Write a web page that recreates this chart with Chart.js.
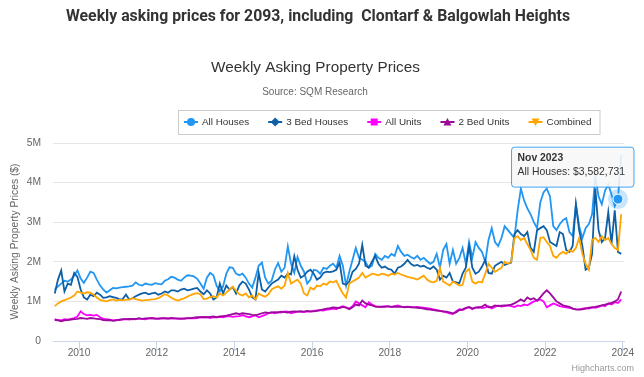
<!DOCTYPE html>
<html>
<head>
<meta charset="utf-8">
<script src="https://cdn.jsdelivr.net/npm/chart.js@4.4.1/dist/chart.umd.min.js"></script>
<style>
html,body{margin:0;padding:0;background:#fff;}
#wrap{position:relative;width:644px;height:377px;overflow:hidden;background:#fff;}
#heading{position:absolute;left:66px;top:6px;white-space:pre;font-family:Roboto,"Liberation Sans",Arial,sans-serif;font-weight:700;font-size:15.8px;line-height:20px;color:#333;}
canvas{position:absolute;left:0;top:0;}
</style>
</head>
<body>
<div id="wrap">
<canvas id="c" width="644" height="377"></canvas>
<div id="heading">Weekly asking prices for 2093, including  Clontarf &amp; Balgowlah Heights</div>
</div>
<script>
// ---- data (values in $ millions), monthly from May 2009 ----
const startYear = 2009;
const startMonth = 5;
const monthNames = ['Jan','Feb','Mar','Apr','May','Jun','Jul','Aug','Sep','Oct','Nov','Dec'];
const seriesNames = ['All Houses','3 Bed Houses','All Units','2 Bed Units','Combined'];
const xTickYears = [2010,2012,2014,2016,2018,2020,2022,2024];
const yTickValues = [0,1,2,3,4,5];

const allHouses = [
1.3,1.38,1.45,1.52,1.5,1.55,1.65,1.78,1.58,1.47,
1.6,1.75,1.72,1.55,1.4,1.3,1.22,1.28,1.34,1.33,
1.35,1.36,1.37,1.38,1.4,1.48,1.42,1.4,1.45,1.43,
1.42,1.46,1.44,1.43,1.52,1.56,
1.62,1.6,1.55,1.52,1.6,1.66,1.65,1.63,1.57,1.45,
1.32,1.6,1.72,1.66,1.4,1.25,1.38,1.7,1.86,1.85,1.7,
1.66,1.7,1.6,1.45,1.35,1.6,1.9,1.98,1.6,1.45,1.52,1.8,1.97,
1.75,1.85,2.39,1.95,1.72,2.12,1.9,1.75,1.45,1.55,
1.8,1.78,1.7,1.85,1.82,1.9,1.95,1.85,2.15,1.9,
1.4,1.75,2.05,2.35,2.1,2.05,2.0,1.85,1.9,2.2,
2.1,2.05,2.15,2.1,2.2,2.15,
2.4,2.25,2.15,2.18,2.12,2.08,2.15,2.05,2.1,2.02,
1.95,2.0,2.2,1.85,2.3,2.45,1.95,2.3,1.95,2.1,
2.35,1.95,2.5,2.1,2.5,2.35,2.25,2.0,2.55,2.85,
2.5,2.4,2.6,2.9,2.8,
2.7,2.6,3.3,3.85,3.55,3.35,3.2,3.0,2.85,3.5,
3.75,3.85,3.65,2.9,2.8,2.95,3.05,3.1,2.75,2.65,
3.45,2.9,2.6,2.85,2.95,3.2,4.15,3.65,3.45,3.8,
3.95,3.7,3.4,3.582731,4.7
];

const threeBedHouses = [
1.2,1.55,1.78,1.25,1.45,1.42,1.72,1.62,1.3,1.1,
1.05,1.17,1.13,1.22,1.17,1.09,1.1,1.13,1.11,1.09,
1.05,1.06,1.17,1.05,1.08,1.13,1.17,1.2,1.22,1.18,
1.2,1.22,1.17,1.2,1.25,1.22,
1.28,1.28,1.25,1.3,1.32,1.28,1.3,1.32,1.34,1.25,
1.18,1.28,1.2,1.05,1.1,1.45,1.2,1.4,1.3,1.36,1.2,
1.4,1.5,1.45,1.3,1.1,1.05,1.72,1.3,1.25,1.35,
1.45,1.5,1.55,1.65,1.6,1.7,1.68,2.14,1.8,1.6,
1.65,1.75,1.8,1.7,1.55,1.6,1.72,1.75,1.74,1.76,
1.8,1.98,1.45,1.42,1.5,1.75,1.82,1.95,2.43,1.9,
1.85,2.0,2.15,1.95,1.85,1.88,1.82,1.8,1.7,
1.85,1.88,1.95,2.05,1.95,1.9,1.92,1.88,1.9,1.85,
1.82,1.88,1.8,1.55,1.65,1.6,1.72,1.5,1.48,1.46,
1.7,1.85,2.39,1.85,1.7,1.75,1.88,2.05,1.72,1.7,
1.9,1.95,2.0,1.92,1.95,1.98,2.7,2.8,2.7,2.65,
2.75,2.35,2.25,2.8,2.85,2.9,2.8,2.5,2.45,2.4,
2.75,2.7,2.3,2.25,2.4,3.45,2.8,2.4,1.8,1.85,
2.2,3.85,2.8,2.5,2.6,3.25,2.45,3.3,2.25,2.2
];

const allUnits = [
0.55,0.53,0.52,0.55,0.54,0.56,0.58,0.62,0.75,0.68,0.65,0.66,0.64,0.66,0.6,0.56,0.55,0.54,0.52,0.53,
0.53,0.54,0.55,0.54,0.56,0.55,0.57,0.56,0.55,0.57,0.58,0.56,0.57,0.58,0.57,0.56,0.58,0.57,0.56,0.57,
0.56,0.57,0.58,0.57,0.58,0.6,0.59,0.6,0.58,0.6,0.6,0.61,0.6,0.62,0.63,0.61,0.62,0.63,0.65,0.62,
0.6,0.62,0.65,0.6,0.63,0.66,0.7,0.72,0.7,0.73,0.72,0.75,0.74,0.7,0.72,0.74,0.75,0.73,0.75,0.74,
0.76,0.77,0.78,0.77,0.79,0.8,0.82,0.8,0.85,0.88,0.85,0.82,0.88,1.0,0.95,0.9,0.85,0.98,0.92,0.88,
0.87,0.86,0.88,0.87,0.86,0.88,0.9,0.87,0.86,0.87,0.86,0.85,0.86,0.85,0.84,0.83,0.82,0.8,0.78,0.76,
0.74,0.72,0.7,0.68,0.75,0.8,0.78,0.82,0.85,0.8,0.84,0.86,0.83,0.85,0.88,0.82,0.86,0.9,0.87,0.88,
0.9,0.88,0.86,0.9,0.88,0.92,0.9,0.95,1.0,1.02,1.05,1.0,0.85,0.9,0.95,0.92,0.88,0.86,0.85,0.84,
0.82,0.8,0.8,0.82,0.83,0.82,0.85,0.84,0.86,0.9,0.88,0.95,0.92,0.98,0.96,1.05
];

const twoBedUnits = [
0.53,0.52,0.5,0.52,0.53,0.54,0.55,0.56,0.58,0.57,0.56,0.58,0.57,0.56,0.55,0.53,0.52,0.53,0.51,0.52,
0.54,0.55,0.55,0.56,0.55,0.56,0.57,0.56,0.57,0.57,0.58,0.57,0.56,0.57,0.58,0.57,0.58,0.57,0.57,0.56,
0.57,0.58,0.58,0.59,0.6,0.6,0.61,0.6,0.61,0.62,0.6,0.62,0.63,0.64,0.66,0.68,0.7,0.68,0.7,0.69,
0.68,0.66,0.65,0.67,0.7,0.72,0.71,0.72,0.73,0.72,0.74,0.73,0.72,0.74,0.75,0.74,0.75,0.74,0.76,0.75,
0.75,0.76,0.78,0.8,0.82,0.83,0.85,0.84,0.83,0.86,0.84,0.8,0.85,0.92,0.9,1.02,0.95,0.92,0.9,0.87,
0.86,0.87,0.86,0.88,0.86,0.87,0.86,0.87,0.85,0.86,0.85,0.85,0.84,0.83,0.82,0.8,0.79,0.78,0.77,0.76,
0.75,0.74,0.72,0.7,0.72,0.78,0.8,0.84,0.86,0.82,0.85,0.84,0.87,0.92,0.85,0.86,0.9,0.88,0.89,0.9,
0.9,0.92,0.95,1.0,1.05,1.0,1.1,1.05,1.08,1.02,1.1,1.2,1.28,1.2,1.1,1.0,0.95,0.9,0.88,0.86,
0.82,0.8,0.79,0.8,0.82,0.84,0.85,0.86,0.88,0.9,0.92,0.94,0.96,1.0,1.05,1.25
];

const combined = [
0.88,0.95,1.0,1.03,1.06,1.1,1.15,1.25,1.22,1.2,
1.23,1.22,1.17,1.1,1.04,1.02,1.0,1.03,1.05,1.02,
1.04,1.03,1.04,1.05,1.08,1.06,1.04,1.02,1.03,1.04,
1.05,1.06,1.08,1.13,1.18,1.15,
1.09,1.05,1.02,1.05,1.08,1.12,1.16,1.19,1.21,1.18,
1.06,1.07,1.11,1.13,1.1,1.2,1.15,1.22,1.3,1.37,1.27,
1.18,1.15,1.2,1.1,1.15,1.05,1.2,1.15,1.12,1.18,
1.3,1.35,1.38,1.32,1.4,1.72,1.45,1.5,1.55,1.45,
1.2,1.15,1.35,1.3,1.4,1.38,1.45,1.42,1.5,1.48,
1.52,1.35,1.2,1.1,1.45,1.5,1.55,1.6,1.72,1.6,
1.65,1.7,1.68,1.66,1.7,1.68,1.65,1.7,1.68,
1.72,1.68,1.65,1.62,1.6,1.58,1.55,1.6,1.65,1.55,
1.5,1.48,1.52,1.85,1.5,1.45,1.4,1.5,1.45,1.4,
1.42,1.75,1.82,1.5,1.45,1.5,1.48,1.7,1.95,1.85,
1.75,1.8,1.85,2.0,1.95,2.0,2.6,2.65,2.55,2.6,
2.45,2.3,2.1,2.05,2.6,2.62,2.5,2.4,2.15,2.1,
2.2,2.25,2.2,2.3,2.25,2.35,2.6,2.2,1.95,1.8,
2.55,2.6,2.5,2.65,2.55,2.6,2.45,2.35,2.3,3.2
];

const hoverSeries = 'All Houses';
const hoverMonth = 'Nov 2023';

// ---- styling ----
const FONT = '"Liberation Sans", Arial, sans-serif';
const colors = ['#2196f3', '#0d5fa6', '#ff00ff', '#9c0a9c', '#ffa500'];
const symbols = ['circle', 'diamond', 'square', 'triangle', 'triangleDown'];
const drawOrder = [5, 4, 3, 2, 1];

const monthLabels = allHouses.map((_, i) => {
  const m = startMonth - 1 + i;
  return monthNames[m % 12] + ' ' + (startYear + Math.floor(m / 12));
});
const xPositions = allHouses.map((_, i) => startYear + (startMonth - 1 + i + 0.5) / 12);
const toPoints = arr => arr.map((v, i) => ({ x: xPositions[i], y: Math.round(v * 1e6) }));

const seriesValues = [allHouses, threeBedHouses, allUnits, twoBedUnits, combined];

Chart.defaults.font.family = FONT;

function rgba(hex, a) {
  const n = parseInt(hex.slice(1), 16);
  return `rgba(${(n >> 16) & 255},${(n >> 8) & 255},${n & 255},${a})`;
}

function drawSymbol(c, type, x, y, color) {
  c.fillStyle = color;
  c.beginPath();
  if (type === 'circle') {
    c.arc(x, y, 4, 0, Math.PI * 2);
  } else if (type === 'diamond') {
    c.moveTo(x, y - 4.5); c.lineTo(x + 4.5, y); c.lineTo(x, y + 4.5); c.lineTo(x - 4.5, y); c.closePath();
  } else if (type === 'square') {
    c.rect(x - 3.5, y - 3.5, 7, 7);
  } else if (type === 'triangle') {
    c.moveTo(x, y - 4); c.lineTo(x + 4, y + 3.5); c.lineTo(x - 4, y + 3.5); c.closePath();
  } else {
    c.moveTo(x - 4, y - 3.5); c.lineTo(x + 4, y - 3.5); c.lineTo(x, y + 4); c.closePath();
  }
  c.fill();
}

const chromePlugin = {
  id: 'chrome',
  beforeDraw(chart) {
    const c = chart.ctx;
    c.save();
    c.fillStyle = '#fff';
    c.fillRect(0, 0, chart.width, chart.height);
    c.restore();
  },
  afterDatasetsDraw(chart) {
    const c = chart.ctx;
    chart.getActiveElements().forEach(a => {
      const el = a.element;
      c.save();
      c.beginPath();
      c.arc(el.x, el.y, 10, 0, Math.PI * 2);
      c.fillStyle = rgba(colors[a.datasetIndex], 0.25);
      c.fill();
      c.restore();
      el.draw(c, chart.chartArea);
    });
  },
  afterDraw(chart) {
    const c = chart.ctx;
    c.save();
    c.textBaseline = 'middle';
    c.textAlign = 'center';
    // chart title and subtitle
    c.fillStyle = '#333';
    c.font = '15.3px ' + FONT;
    c.fillText('Weekly Asking Property Prices', 315.5, 68);
    c.fillStyle = '#666';
    c.font = '10px ' + FONT;
    c.fillText('Source: SQM Research', 315, 92);

    // legend
    c.font = '9.9px ' + FONT;
    c.textAlign = 'left';
    const ly = 122;
    let x = 184;
    const items = [];
    seriesNames.forEach((name, i) => {
      items.push({ x, name, i });
      x += 18 + c.measureText(name).width + 19;
    });
    const boxRight = x - 19 + 8;
    c.strokeStyle = '#cccccc';
    c.lineWidth = 1;
    c.strokeRect(178.5, 110.5, boxRight - 178, 24);
    items.forEach(it => {
      c.strokeStyle = colors[it.i];
      c.lineWidth = 2;
      c.beginPath();
      c.moveTo(it.x, ly);
      c.lineTo(it.x + 14, ly);
      c.stroke();
      drawSymbol(c, symbols[it.i], it.x + 7, ly, colors[it.i]);
      c.fillStyle = '#333';
      c.fillText(it.name, it.x + 18, ly);
    });

    // y axis title
    c.save();
    c.translate(15, 241.5);
    c.rotate(-Math.PI / 2);
    c.textAlign = 'center';
    c.fillStyle = '#666';
    c.font = '10.3px ' + FONT;
    c.fillText('Weekly Asking Property Prices ($)', 0, 0);
    c.restore();

    // credit
    c.textAlign = 'right';
    c.fillStyle = '#999';
    c.font = '9px ' + FONT;
    c.fillText('Highcharts.com', 634, 369);
    c.restore();
  }
};

Chart.Tooltip.positioners.hoverCorner = function (items) {
  if (!items.length) return false;
  const el = items[0].element;
  return { x: el.x + 13, y: el.y };
};

const chart = new Chart(document.getElementById('c'), {
  type: 'line',
  data: {
    datasets: seriesNames.map((name, i) => ({
      label: name,
      data: toPoints(seriesValues[i]),
      borderColor: colors[i],
      backgroundColor: colors[i],
      borderWidth: 1.8,
      pointRadius: 0,
      pointHoverRadius: 5,
      pointHoverBorderWidth: 1,
      pointHoverBorderColor: '#ffffff',
      pointHoverBackgroundColor: colors[i],
      tension: 0,
      fill: false,
      order: drawOrder[i]
    }))
  },
  options: {
    responsive: false,
    animation: false,
    events: [],
    layout: { padding: { top: 143, right: 20, bottom: 0, left: 0 } },
    plugins: {
      legend: { display: false },
      title: { display: false },
      tooltip: {
        enabled: true,
        position: 'hoverCorner',
        xAlign: 'right',
        yAlign: 'bottom',
        caretSize: 0,
        caretPadding: 12,
        cornerRadius: 3,
        backgroundColor: 'rgba(247,247,247,0.88)',
        borderColor: rgba(colors[0], 0.85),
        borderWidth: 1,
        displayColors: false,
        padding: { top: 5, bottom: 9, left: 6, right: 9 },
        titleColor: '#333',
        bodyColor: '#333',
        titleFont: { size: 10.4, weight: 'bold', family: FONT },
        bodyFont: { size: 10.4, family: FONT },
        titleMarginBottom: 1,
        callbacks: {
          title: items => monthLabels[items[0].dataIndex],
          label: ctx => ctx.dataset.label + ': $' + ctx.parsed.y.toLocaleString('en-US')
        }
      }
    },
    scales: {
      x: {
        type: 'linear',
        min: 2009.33,
        max: 2024.03,
        afterFit: s => { s.height = 36; },
        afterBuildTicks: s => { s.ticks = xTickYears.map(v => ({ value: v })); },
        ticks: {
          callback: v => String(v),
          color: '#666',
          font: { size: 10.2 },
          padding: -4,
          maxRotation: 0,
          autoSkip: false
        },
        grid: { drawOnChartArea: false, drawTicks: true, tickLength: 10, color: '#ccd6eb' },
        border: { display: true, color: '#ccd6eb', width: 1 }
      },
      y: {
        min: 0,
        max: 5e6,
        afterFit: s => { s.width = 53; },
        afterBuildTicks: s => { s.ticks = yTickValues.map(v => ({ value: v * 1e6 })); },
        ticks: {
          callback: v => v === 0 ? '0' : (v / 1e6) + 'M',
          color: '#666',
          font: { size: 10.3 },
          padding: 12
        },
        grid: {
          drawTicks: false,
          color: c => (c.tick && c.tick.value === 0) ? 'rgba(0,0,0,0)' : '#e6e6e6'
        },
        border: { display: false }
      }
    }
  },
  plugins: [chromePlugin]
});

const hoverDs = seriesNames.indexOf(hoverSeries);
const hoverIdx = monthLabels.indexOf(hoverMonth);
const active = [{ datasetIndex: hoverDs, index: hoverIdx }];
chart.setActiveElements(active);
chart.tooltip.setActiveElements(active, { x: 0, y: 0 });
chart.update();

// fit the page heading to the reference width
const h = document.getElementById('heading');
const w = h.getBoundingClientRect().width;
h.style.fontSize = (15.8 * 504 / w).toFixed(2) + 'px';
</script>
</body>
</html>
